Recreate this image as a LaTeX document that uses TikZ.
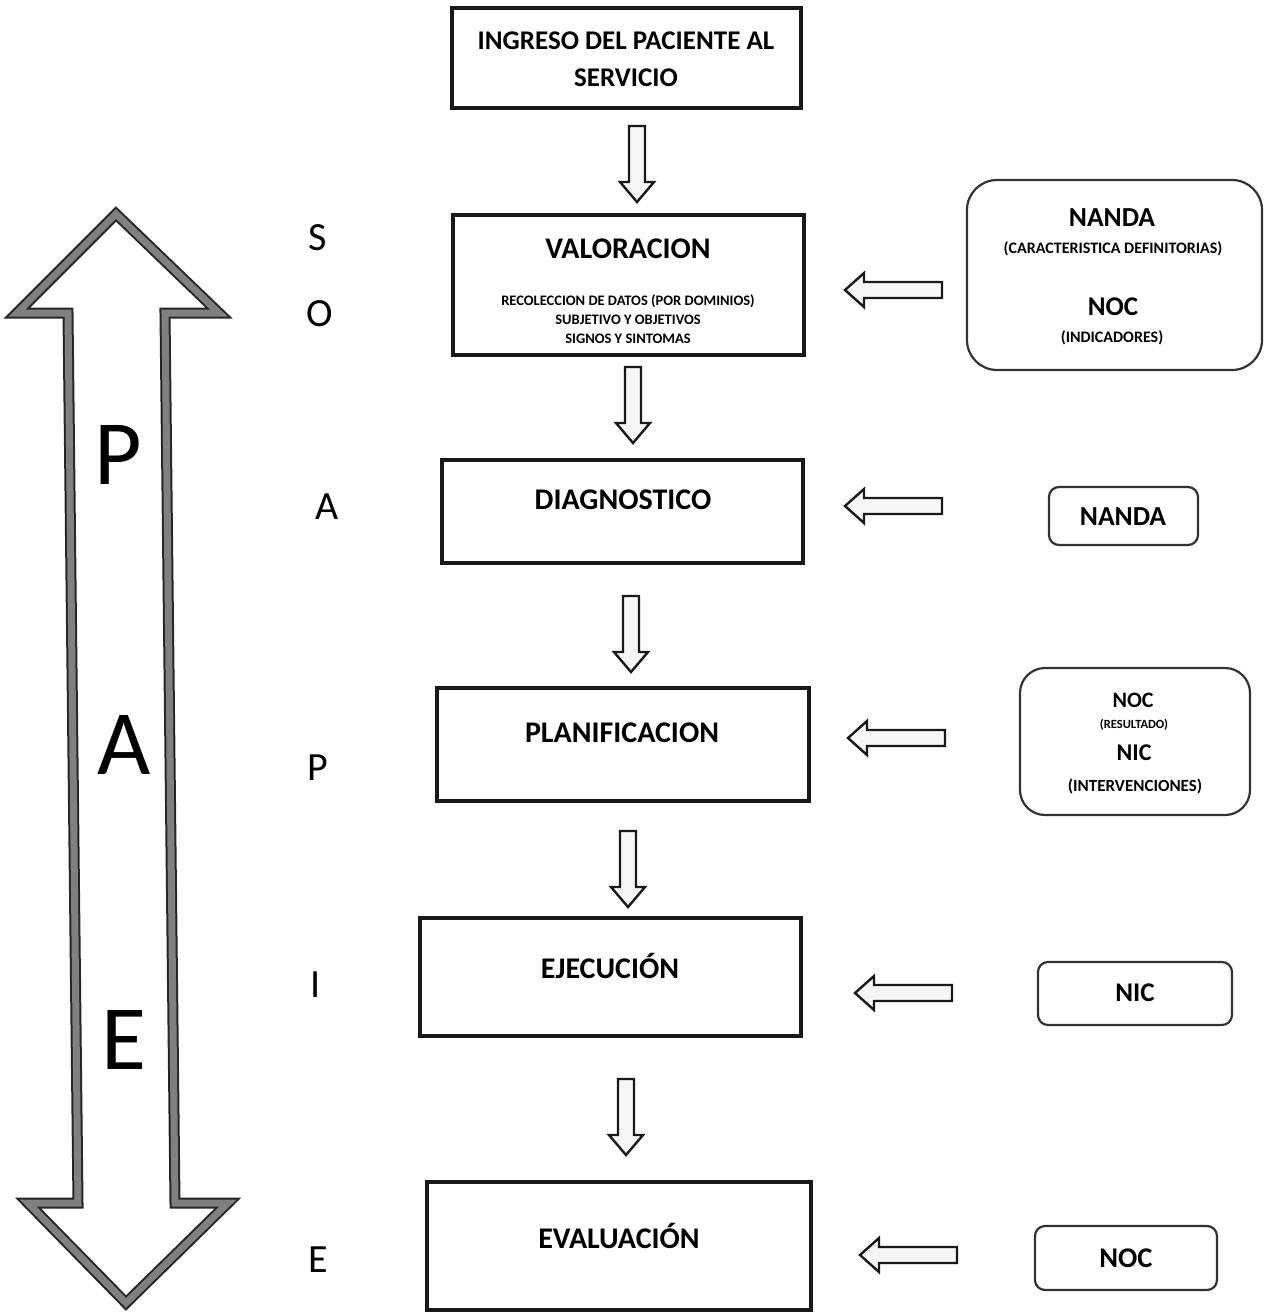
\documentclass[tikz,border=0pt]{standalone}
\usepackage{fontspec}
\setmainfont{Carlito}
\usetikzlibrary{calc}
\begin{document}
\begin{tikzpicture}[x=1pt,y=-1pt,
  mainbox/.style={draw=black!90,line width=4pt,fill=white,inner sep=0pt},
  sidebox/.style={draw=black!80,line width=2.2pt,fill=white,inner sep=0pt},
  ttl/.style={font=\bfseries\fontsize{30}{34}\selectfont,inner sep=0pt},
  small/.style={font=\bfseries\fontsize{16}{20}\selectfont,inner sep=0pt,align=center},
  soap/.style={font=\fontsize{40}{40}\selectfont,inner sep=0pt},
  big/.style={font=\fontsize{92}{92}\selectfont,inner sep=0pt},
  hollow/.style={draw=black!90,line width=2.4pt,fill=gray!7,line join=miter},
  downarr/.pic={\draw[hollow] (-8,0) -- (8,0) -- (8,56) -- (17,56) -- (0,76) -- (-17,56) -- (-8,56) -- cycle;},
  leftarr/.pic={\draw[hollow] (0,0) -- (19,-17) -- (19,-8) -- (97,-8) -- (97,8) -- (19,8) -- (19,17) -- cycle;}
]
\useasboundingbox (0,0) rectangle (1272,1312);
\fill[white] (0,0) rectangle (1272,1312);

% PAE double arrow along the left side
\def\paepath{(116,214) -- (219,313) -- (165,313) -- (175,1203) -- (228,1203) -- (126,1303)
  -- (28,1203) -- (78,1203) -- (68,313) -- (17,313) -- cycle}
\draw[draw=black!85,line width=11pt,line join=miter,miter limit=10] \paepath;
\draw[draw=black!50,line width=7pt,line join=miter,miter limit=10] \paepath;
\node[big] (bigP) at (118,455) {P};
\node[big] (bigA) at (124,745) {A};
\node[big] (bigE) at (124,1040) {E};

% SOAPIE letters
\node[soap] (sS) at (318,238) {S};
\node[soap] (sO) at (320,314) {O};
\node[soap] (sA) at (327,507) {A};
\node[soap] (sP) at (318,768) {P};
\node[soap] (sI) at (316,985) {I};
\node[soap] (sE) at (318,1260) {E};

% main process boxes
\node[mainbox,minimum width=349,minimum height=100] (ing) at (626.5,58) {};
\node[font=\bfseries\fontsize{27}{37}\selectfont,align=center,inner sep=0pt] (ingt) at (626,59) {INGRESO DEL PACIENTE AL\\SERVICIO};

\node[mainbox,minimum width=351,minimum height=140] (val) at (628.5,285) {};
\node[ttl] (valt) at (628,249) {VALORACION};
\node[small,font=\bfseries\fontsize{14.5}{19}\selectfont] (vals) at (628,319) {RECOLECCION DE DATOS (POR DOMINIOS)\\SUBJETIVO Y OBJETIVOS\\SIGNOS Y SINTOMAS};

\node[mainbox,minimum width=361,minimum height=103] (diag) at (622.5,511.5) {};
\node[ttl] (diagt) at (623,500) {DIAGNOSTICO};

\node[mainbox,minimum width=372,minimum height=113] (plan) at (623,744.5) {};
\node[ttl] (plant) at (622,733) {PLANIFICACION};

\node[mainbox,minimum width=381,minimum height=118] (ejec) at (610.5,977) {};
\node[ttl] (eject) at (610,966) {EJECUCIÓN};

\node[mainbox,minimum width=384,minimum height=128] (eval) at (619,1246) {};
\node[ttl] (evalt) at (619,1236) {EVALUACIÓN};

% downward flow arrows
\pic (d1) at (637,126) {downarr};
\pic (d2) at (633,367) {downarr};
\pic (d3) at (631,596) {downarr};
\pic (d4) at (628,831) {downarr};
\pic (d5) at (626,1079) {downarr};

% side boxes
\node[sidebox,rounded corners=30pt,minimum width=295,minimum height=190] (r1) at (1114.5,275) {};
\node[ttl,font=\bfseries\fontsize{27.5}{30}\selectfont] (r1a) at (1112,218) {NANDA};
\node[small] (r1b) at (1113,249) {(CARACTERISTICA DEFINITORIAS)};
\node[ttl,font=\bfseries\fontsize{27}{30}\selectfont] (r1c) at (1113,307) {NOC};
\node[small] (r1d) at (1112,338) {(INDICADORES)};

\node[sidebox,rounded corners=10pt,minimum width=149,minimum height=58] (r2) at (1123.5,516) {};
\node[ttl,font=\bfseries\fontsize{27.5}{30}\selectfont] (r2a) at (1123,517) {NANDA};

\node[sidebox,rounded corners=25pt,minimum width=230,minimum height=147] (r3) at (1135,741.5) {};
\node[ttl,font=\bfseries\fontsize{22}{30}\selectfont] (r3a) at (1133,700) {NOC};
\node[small,font=\bfseries\fontsize{12.5}{14}\selectfont] (r3b) at (1134,725) {(RESULTADO)};
\node[ttl,font=\bfseries\fontsize{24}{30}\selectfont] (r3c) at (1134,753) {NIC};
\node[small,font=\bfseries\fontsize{17}{20}\selectfont] (r3d) at (1135,786) {(INTERVENCIONES)};

\node[sidebox,rounded corners=10pt,minimum width=194,minimum height=63] (r4) at (1135,993.5) {};
\node[ttl,font=\bfseries\fontsize{27}{30}\selectfont] (r4a) at (1135,993) {NIC};

\node[sidebox,rounded corners=10pt,minimum width=182,minimum height=64] (r5) at (1126,1258) {};
\node[ttl,font=\bfseries\fontsize{28.5}{30}\selectfont] (r5a) at (1126,1258) {NOC};

% arrows feeding each step from the side boxes
\pic (l1) at (845,290) {leftarr};
\pic (l2) at (845,506) {leftarr};
\pic (l3) at (848,738) {leftarr};
\pic (l4) at (855,993) {leftarr};
\pic (l5) at (860,1255) {leftarr};
\end{tikzpicture}
\end{document}
